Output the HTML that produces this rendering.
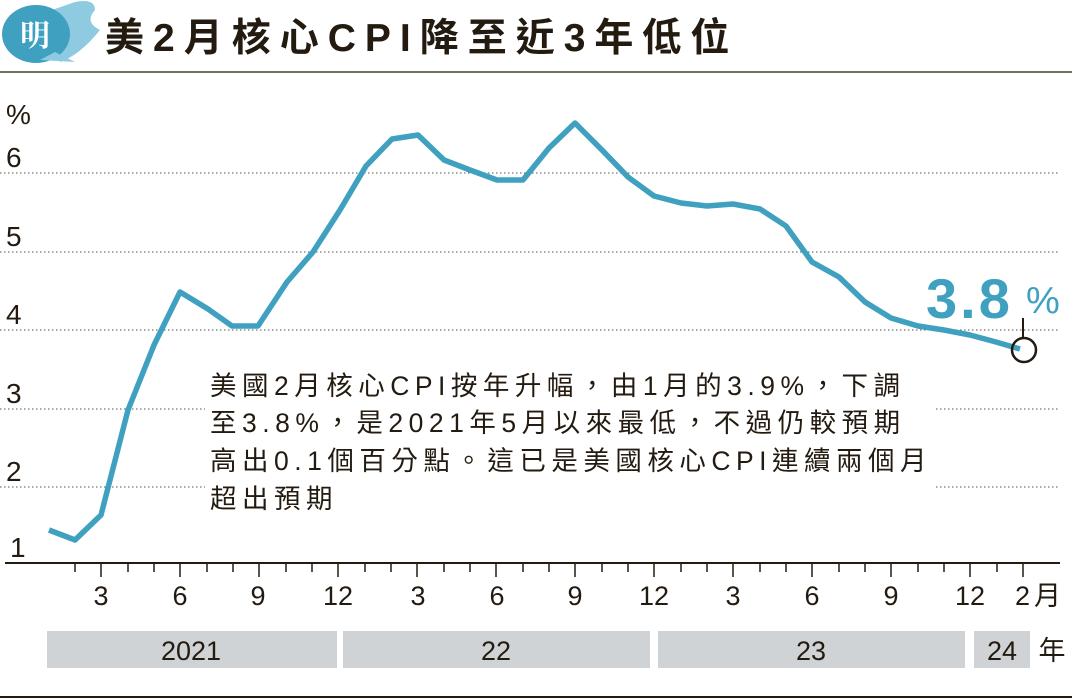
<!DOCTYPE html><html><head><meta charset="utf-8"><style>
body{margin:0;width:1072px;height:699px;background:#fff;overflow:hidden;font-family:"Liberation Sans","Noto Sans CJK TC",sans-serif;color:#231a10}
</style></head><body>
<svg width="1072" height="699" viewBox="0 0 1072 699" xmlns="http://www.w3.org/2000/svg" style="position:absolute;left:0;top:0">
<path d="M52 10 L75 2 Q95 -2 95 10 Q84 22 100 30 Q80 55 60 62 Z" fill="#8fcbe0"/>
<ellipse cx="36" cy="34" rx="34" ry="29" fill="#3fa0c0"/>
<path d="M40 60 L75 62 L55 52Z" fill="#8fcbe0"/>
<text x="35" y="46" font-size="30" fill="#fff" text-anchor="middle" font-family="'Noto Serif CJK SC',serif" font-weight="bold">明</text>
<text x="105" y="51" font-size="39" font-weight="bold" fill="#231a10" font-family="'Liberation Sans','Noto Sans CJK TC',sans-serif" letter-spacing="9">美2月核心CPI降至近3年低位</text>
<line x1="0" y1="72" x2="1072" y2="72" stroke="#4a4030" stroke-width="1.5"/>
<g stroke="#555" stroke-width="1" stroke-dasharray="1.5,2.5">
<line x1="0" y1="173" x2="1060" y2="173"/><line x1="0" y1="252" x2="1060" y2="252"/><line x1="0" y1="330" x2="1060" y2="330"/><line x1="0" y1="409" x2="1060" y2="409"/><line x1="0" y1="487" x2="1060" y2="487"/>
</g>
<g font-size="28" fill="#231a10">
<text x="6" y="124">%</text><text x="6" y="167">6</text><text x="6" y="246">5</text><text x="6" y="324">4</text><text x="6" y="403">3</text><text x="6" y="481">2</text><text x="10" y="557">1</text>
</g>
<line x1="5" y1="563" x2="1060" y2="563" stroke="#231a10" stroke-width="2"/>
<polyline fill="none" stroke="#3fa0c0" stroke-width="5.5" stroke-linejoin="round" points="49,530 75,540 101,515 128,410 154,345 180,292 208,309 232,326 258,326 287,282 313,252 340,210 366,166 392,139 418,135 444,160 470,170 497,180 523,180 549,148 575,123 602,150 628,177 654,196 681,203 707,206 733,204 760,209 786,226 812,262 839,277 865,302 891,318 918,326 944,330 970,335 996,342 1020,349"/>
<line x1="1023" y1="318" x2="1023" y2="338" stroke="#231a10" stroke-width="2"/>
<circle cx="1024" cy="350" r="12" fill="none" stroke="#231a10" stroke-width="2.5"/>
<text x="926" y="318" font-size="56" font-weight="bold" fill="#3fa0c0" letter-spacing="3">3.8</text>
<text x="1026" y="313" font-size="38" fill="#3fa0c0">%</text>
<rect x="205" y="360" width="730" height="160" fill="#fff"/>
<g font-size="26.5" fill="#231a10" letter-spacing="5.5">
<text x="210" y="395">美國2月核心CPI按年升幅，由1月的3.9%，下調</text>
<text x="210" y="432">至3.8%，是2021年5月以來最低，不過仍較預期</text>
<text x="210" y="470">高出0.1個百分點。這已是美國核心CPI連續兩個月</text>
<text x="210" y="508">超出預期</text>
</g>
<g font-size="27" fill="#231a10" text-anchor="middle">
<text x="101" y="605">3</text><text x="180" y="605">6</text><text x="258" y="605">9</text><text x="338" y="605">12</text><text x="418" y="605">3</text><text x="497" y="605">6</text><text x="575" y="605">9</text><text x="654" y="605">12</text><text x="733" y="605">3</text><text x="812" y="605">6</text><text x="891" y="605">9</text><text x="970" y="605">12</text><text x="1040" y="605" letter-spacing="4">2月</text>
</g>
<g fill="#d0d3d6"><rect x="47" y="631" width="290" height="37"/><rect x="343" y="631" width="307" height="37"/><rect x="658" y="631" width="307" height="37"/><rect x="974" y="631" width="56" height="37"/></g>
<g font-size="27" fill="#231a10" text-anchor="middle">
<text x="191" y="660">2021</text><text x="496" y="660">22</text><text x="811" y="660">23</text><text x="1002" y="660">24</text><text x="1052" y="660">年</text>
</g>
<line x1="0" y1="697" x2="1072" y2="697" stroke="#231a10" stroke-width="2"/>
<g stroke="#231a10" stroke-width="1.5">
<line x1="75" y1="563" x2="75" y2="572"/><line x1="101" y1="563" x2="101" y2="577"/><line x1="128" y1="563" x2="128" y2="572"/><line x1="154" y1="563" x2="154" y2="572"/><line x1="180" y1="563" x2="180" y2="577"/><line x1="207" y1="563" x2="207" y2="572"/><line x1="233" y1="563" x2="233" y2="572"/><line x1="259" y1="563" x2="259" y2="577"/><line x1="286" y1="563" x2="286" y2="572"/><line x1="312" y1="563" x2="312" y2="572"/><line x1="338" y1="563" x2="338" y2="577"/><line x1="365" y1="563" x2="365" y2="572"/><line x1="391" y1="563" x2="391" y2="572"/><line x1="417" y1="563" x2="417" y2="577"/><line x1="444" y1="563" x2="444" y2="572"/><line x1="470" y1="563" x2="470" y2="572"/><line x1="496" y1="563" x2="496" y2="577"/><line x1="523" y1="563" x2="523" y2="572"/><line x1="549" y1="563" x2="549" y2="572"/><line x1="575" y1="563" x2="575" y2="577"/><line x1="602" y1="563" x2="602" y2="572"/><line x1="628" y1="563" x2="628" y2="572"/><line x1="654" y1="563" x2="654" y2="577"/><line x1="681" y1="563" x2="681" y2="572"/><line x1="707" y1="563" x2="707" y2="572"/><line x1="733" y1="563" x2="733" y2="577"/><line x1="760" y1="563" x2="760" y2="572"/><line x1="786" y1="563" x2="786" y2="572"/><line x1="812" y1="563" x2="812" y2="577"/><line x1="839" y1="563" x2="839" y2="572"/><line x1="865" y1="563" x2="865" y2="572"/><line x1="891" y1="563" x2="891" y2="577"/><line x1="918" y1="563" x2="918" y2="572"/><line x1="944" y1="563" x2="944" y2="572"/><line x1="970" y1="563" x2="970" y2="577"/><line x1="997" y1="563" x2="997" y2="572"/><line x1="1023" y1="563" x2="1023" y2="577"/>
</g>
</svg>
</body></html>
